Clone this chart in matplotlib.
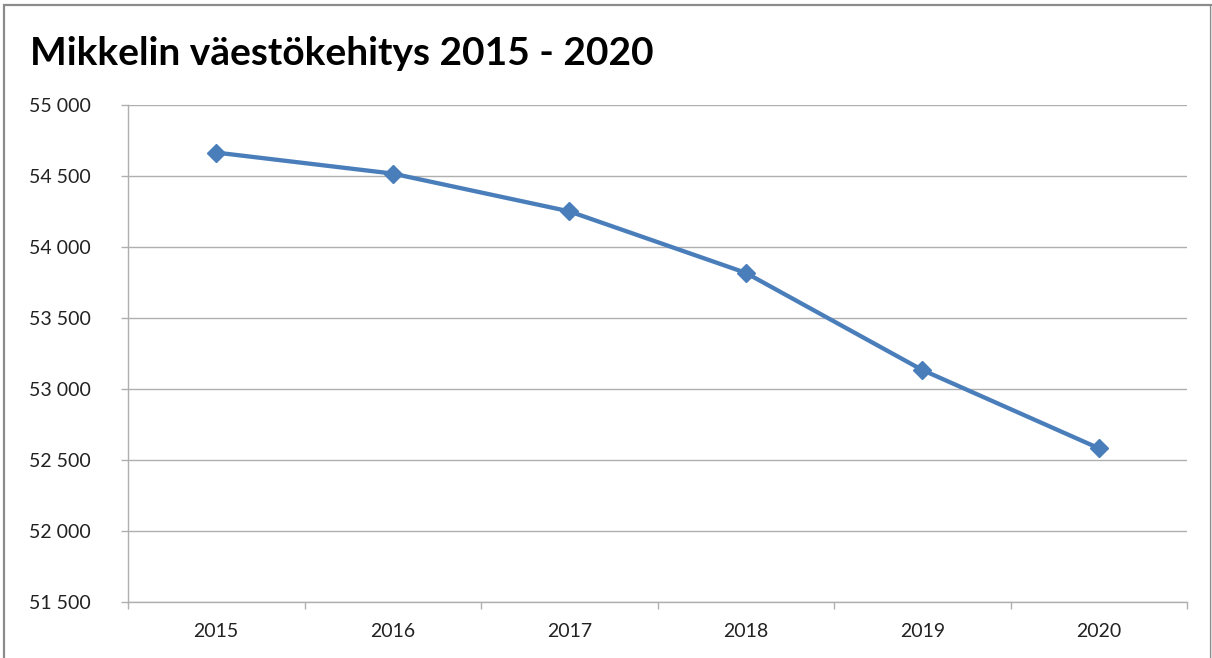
import matplotlib
matplotlib.use("Agg")
import matplotlib.pyplot as plt
from matplotlib.patches import Rectangle
from matplotlib.ticker import FuncFormatter, MultipleLocator

years = ["2015", "2016", "2017", "2018", "2019", "2020"]
population = [54665, 54517, 54251, 53818, 53134, 52583]
y_ticks = [51500, 52000, 52500, 53000, 53500, 54000, 54500, 55000]
title = "Mikkelin väestökehitys 2015 - 2020"

plt.rcParams['font.family'] = ['Lato', 'DejaVu Sans']

W, H = 1212, 658
fig = plt.figure(figsize=(W / 100, H / 100), dpi=100)
ax = fig.add_axes([128 / W, 1 - 602 / H, (1187 - 128) / W, (602 - 105) / H])

x = list(range(len(years)))
ax.plot(x, population, color="#4A7EBB", lw=3.1, marker="D", markersize=9,
        markerfacecolor="#4A7EBB", markeredgecolor="#4A7EBB", zorder=3,
        solid_joinstyle="round", clip_on=False)

grid_c = "#AFAFAF"
ax.set_ylim(y_ticks[0], y_ticks[-1])
ax.set_yticks(y_ticks)
ax.yaxis.set_major_formatter(FuncFormatter(lambda v, p: f"{int(v):,}".replace(",", " ")))
ax.grid(axis="y", color=grid_c, lw=1.0)
ax.set_axisbelow(True)

ax.set_xlim(-0.5, len(years) - 0.5)
ax.set_xticks(x)
ax.set_xticklabels(years)
ax.xaxis.set_minor_locator(MultipleLocator(1, offset=0.5))
ax.tick_params(axis="x", which="major", length=0, pad=15, labelsize=14, labelcolor="#222222")
ax.tick_params(axis="x", which="minor", length=5, width=1.0, color=grid_c, direction="out")
ax.tick_params(axis="y", which="major", length=5, width=1.0, color=grid_c, pad=22,
               labelsize=14, labelcolor="#222222")

for s in ["top", "right"]:
    ax.spines[s].set_visible(False)
for s in ["left", "bottom"]:
    ax.spines[s].set_color(grid_c)
    ax.spines[s].set_linewidth(1.0)

fig.text(30 / W, 1 - 65 / H, title, fontsize=28, fontweight="bold", color="black",
         ha="left", va="baseline")

# outer chart frame
fig.add_artist(Rectangle((4 / W, -0.05), (1207 / W), 1 - 5 / H + 0.05,
                         transform=fig.transFigure, fill=False,
                         edgecolor="#8C8C8C", lw=1.6))
fig.add_artist(Rectangle((1210.5 / W, 0), 1 / W, 1 - 6 / H, transform=fig.transFigure,
                         color="#DADADA", lw=0))

fig.savefig("out.png", dpi=100)
